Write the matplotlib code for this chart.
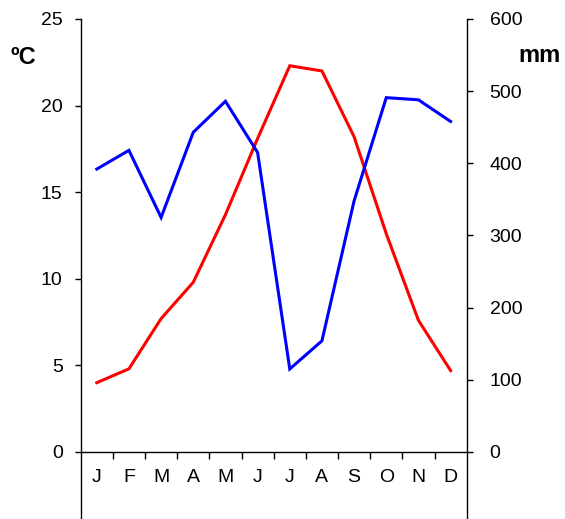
import matplotlib
matplotlib.use("Agg")
import matplotlib.pyplot as plt
from matplotlib.ticker import FixedLocator, NullFormatter

plt.rcParams['font.family'] = ['Liberation Sans', 'DejaVu Sans']

months = ["J", "F", "M", "A", "M", "J", "J", "A", "S", "O", "N", "D"]
temperature_c = [4.0, 4.8, 7.7, 9.8, 13.7, 18.1, 22.3, 22.0, 18.2, 12.6, 7.6, 4.7]
precip_mm = [392, 418, 325, 443, 486, 415, 115, 154, 348, 491, 488, 458]
temp_ticks = [0, 5, 10, 15, 20, 25]
precip_ticks = [0, 100, 200, 300, 400, 500, 600]

fig = plt.figure(figsize=(5.65, 5.19), dpi=100)
ax = fig.add_axes([0.1428, 0.0, 0.6832, 0.9634])
ax2 = ax.twinx()

x = list(range(1, len(months) + 1))
t_bottom = -3.87
ax.set_xlim(0.5, 12.5)
ax.set_ylim(t_bottom, 25)
ax2.set_ylim(t_bottom * 24, 600)

ax.plot(x, temperature_c, color="#ff0000", lw=2.2, solid_joinstyle="miter", zorder=3)
ax2.plot(x, precip_mm, color="#0000ff", lw=2.2, solid_joinstyle="miter", zorder=3)

for a in (ax, ax2):
    a.spines['top'].set_visible(False)
    a.spines['bottom'].set_position(('data', 0))
    a.patch.set_visible(False)
    for s in a.spines.values():
        s.set_linewidth(1.0)
        s.set_color("black")
ax2.spines['bottom'].set_visible(False)
ax2.spines['left'].set_visible(False)
ax.spines['right'].set_visible(False)

ax.set_yticks(temp_ticks)
ax.tick_params(axis='y', direction='out', length=4, width=1, pad=9, labelsize=14)
ax2.set_yticks(precip_ticks)
ax2.tick_params(axis='y', direction='out', length=4.5, width=1, pad=12, labelsize=14)

# month labels centred in each slot, separator ticks between months
ax.set_xticks(x)
ax.set_xticklabels(months)
ax.tick_params(axis='x', which='major', length=0, pad=12, labelsize=14)
ax.xaxis.set_minor_locator(FixedLocator([i + 0.5 for i in range(1, 12)]))
ax.xaxis.set_minor_formatter(NullFormatter())
ax.tick_params(axis='x', which='minor', direction='out', length=5, width=1)

fig.text(23 / 565, 1 - 57 / 519, "ºC", fontsize=17, fontweight='bold',
         ha='center', va='center')
fig.text(540 / 565, 1 - 56 / 519, "mm", fontsize=17, fontweight='bold',
         ha='center', va='center')

fig.savefig("out.png", dpi=100)
